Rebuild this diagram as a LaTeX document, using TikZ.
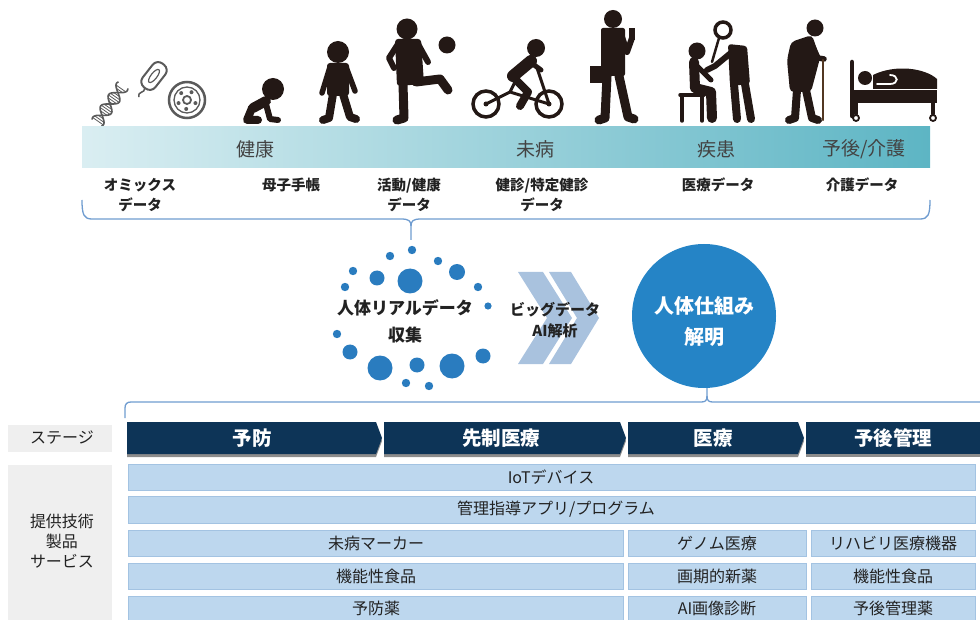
\documentclass[tikz,border=0pt]{standalone}
\usepackage{fontspec}
\newfontfamily\jp{Noto Sans CJK JP}
\usetikzlibrary{calc}
\definecolor{ink}{HTML}{231815}
\definecolor{grayink}{HTML}{5a5a5a}
\definecolor{barL}{HTML}{DAEEF2}
\definecolor{barR}{HTML}{5DB5C4}
\definecolor{bracec}{HTML}{6F9CD0}
\definecolor{dotc}{HTML}{2A7CBF}
\definecolor{circc}{HTML}{2584C6}
\definecolor{chevc}{HTML}{A9C2DE}
\definecolor{navy}{HTML}{0D3457}
\definecolor{rowc}{HTML}{BDD7EE}
\definecolor{rowline}{HTML}{A3C3E2}
\definecolor{sidec}{HTML}{EFEFEF}
\definecolor{txt}{HTML}{222222}
\tikzset{
  barlbl/.style={font=\jp\fontsize{19}{22}\selectfont, text=txt!85},
  datalbl/.style={font=\jp\bfseries\fontsize{14.5}{20}\selectfont, text=txt, align=center, inner sep=0},
  midlbl/.style={font=\jp\bfseries\fontsize{17}{27}\selectfont, text=txt, align=center, inner sep=0},
  biglbl/.style={font=\jp\bfseries\fontsize{15}{21}\selectfont, text=txt, align=center, inner sep=0},
  circlbl/.style={font=\jp\bfseries\fontsize{20}{31}\selectfont, text=white, align=center, inner sep=0},
  stagelbl/.style={font=\jp\bfseries\fontsize{19.5}{22}\selectfont, text=white},
  rowlbl/.style={font=\jp\fontsize{16}{18}\selectfont, text=txt},
  sidelbl/.style={font=\jp\fontsize{16}{20}\selectfont, text=txt, align=center, inner sep=0},
  bracket/.style={draw=bracec, line width=1.3pt},
  rowbox/.style={fill=rowc, draw=rowline, line width=0.8pt},
  stageseg/.style={fill=navy},
  stageshadow/.style={fill=black!45},
  sil/.style={fill=ink},
  limb/.style={draw=ink, line cap=round, line join=round},
  dot/.style={fill=dotc},
}
\begin{document}
\begin{tikzpicture}[x=1pt,y=-1pt]
\useasboundingbox (0,0) rectangle (980,620);

% ---------- life-course silhouettes ----------
% DNA helix
\begin{scope}[shift={(110,104)}, rotate=55, draw=grayink]
  \draw[line width=1.6pt] plot[domain=-23:23, samples=60] (\x, {6.5*sin(\x*13)});
  \draw[line width=1.6pt] plot[domain=-23:23, samples=60] (\x, {-6.5*sin(\x*13)});
  \foreach \t in {-21,-18.5,...,21} \draw[line width=0.8pt] (\t, {6.5*sin(\t*13)}) -- (\t, {-6.5*sin(\t*13)});
\end{scope}
% bacterium
\begin{scope}[shift={(154,76)}, rotate=52]
  \draw[grayink, line width=2pt, rounded corners=7pt] (-15,-8) rectangle (15,8);
  \draw[grayink, line width=1.2pt] (0,0) ellipse [x radius=8, y radius=3];
  \draw[grayink, line width=1.5pt] (-15,0) .. controls (-20,4) and (-21,-4) .. (-26,1);
\end{scope}
% cell
\draw[grayink, line width=2.5pt] (187,100) circle[radius=18];
\draw[grayink, line width=1.3pt] (187,100) circle[radius=13];
\draw[grayink, line width=1.8pt] (187,100) circle[radius=4];
\foreach \a in {20,95,160,230,300} \fill[grayink] ($(187,100)+(\a:9)$) circle[radius=2];

% crawling baby
\fill[ink] (273,89) circle[radius=11];
\draw[limb, line width=10pt] (266,101) -- (253,108);
\draw[limb, line width=6pt] (266,104) -- (270,119) -- (278,120);
\draw[limb, line width=8pt] (252,108) -- (247,120) -- (258,120);

% standing child
\fill[ink] (338,52) circle[radius=11];
\fill[ink, rounded corners=3pt] (327,63) rectangle (349,96);
\draw[limb, line width=5.5pt] (330,67) -- (322,93);
\draw[limb, line width=5.5pt] (346,67) -- (355,91);
\draw[limb, line width=8pt] (333,94) -- (329,118) -- (323,120);
\draw[limb, line width=8pt] (343,94) -- (350,117) -- (356,119);

% kid juggling a ball
\fill[ink] (407,29) circle[radius=10.5];
\fill[ink] (447,45) circle[radius=8.5];
\fill[ink, rounded corners=3pt] (395,39) -- (421,39) -- (424,84) -- (397,86) -- cycle;
\draw[limb, line width=6pt] (398,44) -- (389,58) -- (394,68);
\draw[limb, line width=6pt] (418,44) -- (428,62);
\draw[limb, line width=9pt] (403,84) -- (404,118) -- (397,120);
\draw[limb, line width=9pt] (416,82) -- (440,79) -- (448,90);

% cyclist
\draw[ink, line width=3.5pt] (486,104) circle[radius=13];
\draw[ink, line width=3.5pt] (549,104) circle[radius=13];
\fill[ink] (486,104) circle[radius=2.5];
\fill[ink] (549,104) circle[radius=2.5];
\draw[limb, line width=3pt] (486,104) -- (510,92) -- (549,104) (510,92) -- (518,76) (537,68) -- (549,104);
\fill[ink] (536,48) circle[radius=9];
\draw[limb, line width=12pt] (513,76) -- (531,61);
\draw[limb, line width=5pt] (530,62) -- (541,70);
\draw[limb, line width=8pt] (514,78) -- (528,92) -- (520,106);

% man with phone and briefcase
\fill[ink] (613,19) circle[radius=9];
\fill[ink, rounded corners=2pt] (601,28) rectangle (625,76);
\draw[limb, line width=6pt] (621,34) -- (627,52) -- (632,38);
\fill[ink] (629,28) rectangle (635,40);
\fill[ink] (590,66) rectangle (604,83);
\draw[limb, line width=9pt] (607,76) -- (605,118) -- (599,120);
\draw[limb, line width=9pt] (619,76) -- (628,117) -- (634,119);

% doctor with seated patient
\fill[ink] (697,51) circle[radius=8.5];
\draw[limb, line width=10pt] (694,62) -- (695,88) -- (711,92) -- (712,118);
\draw[limb, line width=5pt] (697,66) -- (711,80);
\draw[limb, line width=3.5pt] (680,95) -- (704,95) (682,95) -- (682,121) (702,95) -- (702,121);
\draw[ink, line width=3.5pt] (723,30) circle[radius=8];
\draw[limb, line width=2.5pt] (719,38) -- (712,62);
\fill[ink, rounded corners=3pt] (728,44) -- (747,46) -- (750,84) -- (730,86) -- cycle;
\draw[limb, line width=6pt] (732,52) -- (715,66) -- (707,70);
\draw[limb, line width=8pt] (734,84) -- (737,119) (745,84) -- (751,119);

% elderly person with cane
\fill[ink] (815,28) circle[radius=8.5];
\fill[ink, rounded corners=4pt] (791,42) -- (812,35) -- (820,58) -- (811,92) -- (790,92) -- (787,60) -- cycle;
\draw[limb, line width=5.5pt] (812,45) -- (818,58) -- (824,59);
\draw[limb, line width=8pt] (797,90) -- (795,118) -- (789,120);
\draw[limb, line width=8pt] (806,90) -- (812,118) -- (818,120);
\draw[ink!70!brown, line width=2.5pt, line cap=round] (823,60) -- (823,120);

% patient in bed
\draw[limb, line width=4.5pt] (852,62) -- (852,116);
\fill[ink] (852,90) rectangle (937,103);
\fill[ink] (865,78) circle[radius=7];
\fill[ink] (873,89) -- (873,75) .. controls (895,64) and (925,68) .. (937,79) -- (937,89) -- cycle;
\draw[white, line width=1.8pt, line cap=round] (877,84) -- (890,84) .. controls (899,84) and (899,75) .. (890,75);
\draw[limb, line width=3.5pt] (856,103) -- (856,114) (933,103) -- (933,114);
\draw[ink, line width=1.8pt] (856,118) circle[radius=3] (933,118) circle[radius=3];

% ---------- life-stage bar ----------
\shade[left color=barL, right color=barR] (82,127) rectangle (930,168);
\node[barlbl] (kenko) at (255,149) {健康};
\node[barlbl] (mibyo) at (535,149) {未病};
\node[barlbl] (shikkan) at (716,149) {疾患};
\node[barlbl] (kaigo) at (864,149) {予後/介護};

% data sources
\node[datalbl] (omics) at (140,195) {オミックス\\データ};
\node[datalbl] (boshi) at (291,185) {母子手帳};
\node[datalbl] (katsudo) at (409,195) {活動/健康\\データ};
\node[datalbl] (kenshin) at (542,195) {健診/特定健診\\データ};
\node[datalbl] (iryodata) at (718,185) {医療データ};
\node[datalbl] (kaigodata) at (862,185) {介護データ};

% brace collecting all the data sources
\coordinate (bL) at (82,200);
\coordinate (bR) at (930,200);
\coordinate (bTip) at (411,226);
\coordinate (bEnd) at (411,240);
\draw[bracket] (bL) .. controls (82,215) and (84,219) .. (92,219) -- (401,219)
  .. controls (409,219) and (411,221) .. (bTip) -- (bEnd);
\draw[bracket] (bTip) .. controls (411,221) and (413,219) .. (421,219) -- (920,219)
  .. controls (928,219) and (930,215) .. (bR);

% ---------- real-world data cloud ----------
\foreach \px/\py/\r in {412/250/4.2, 390/256/4.2, 438/261/4.2, 353/271/4.2, 377/278/7.5,
  410/281/12.5, 457/272/8, 345/287/4.2, 478/287/4.2, 488/306/3.6, 337/334/4.2,
  350/352/7.5, 483/356/7.5, 380/368/12.5, 417/365/7.5, 452/366/12.5, 406/383/4.2, 429/386/4.2}
  \fill[dot] (\px,\py) circle[radius=\r];
\node[midlbl] (collect) at (405,321) {人体リアルデータ\\収集};

% ---------- big-data analysis chevrons ----------
\fill[chevc] (518,272) -- (543,272) -- (572,318) -- (543,364) -- (518,364) -- (547,318) -- cycle;
\fill[chevc] (549,272) -- (571,272) -- (599,318) -- (571,364) -- (549,364) -- (577,318) -- cycle;
\node[biglbl] (bigdata) at (555,320) {ビッグデータ\\AI解析};

% ---------- mechanism elucidation ----------
\node[circle, fill=circc, minimum size=144pt, inner sep=0] (mech) at (704,316) {};
\node[circlbl] (mechtxt) at (704,321) {人体仕組み\\解明};

% brace spanning all stages
\coordinate (sL) at (125,418);
\coordinate (sR) at (980,402);
\coordinate (sTip) at (707,396);
\draw[bracket] (sL) -- (125,408) .. controls (125,404) and (127,402) .. (131,402) -- (701,402)
  .. controls (705,402) and (707,401) .. (sTip) -- (mech.south -| sTip);
\draw[bracket] (sTip) .. controls (707,401) and (709,402) .. (713,402) -- (sR);

% ---------- stage row ----------
\fill[sidec] (8,425) rectangle (112,452);
\node[rowlbl] (stagehead) at (62,438) {ステージ};
\foreach \xa/\xb in {127/382, 384/626, 628/804} {
  \fill[stageshadow] (\xa,425) -- (\xb-6,425) -- (\xb,441) -- (\xb-6,457) -- (\xa,457) -- cycle;
  \fill[stageseg] (\xa,422) -- (\xb-6,422) -- (\xb,438) -- (\xb-6,454) -- (\xa,454) -- cycle;
}
\fill[stageshadow] (806,425) rectangle (980,457);
\fill[stageseg] (806,422) rectangle (980,454);
\node[stagelbl] (yobo) at (252,438) {予防};
\node[stagelbl] (sensei) at (501,438) {先制医療};
\node[stagelbl] (iryo) at (713,438) {医療};
\node[stagelbl] (yogo) at (893,438) {予後管理};

% ---------- technologies, products and services ----------
\fill[sidec] (8,465) rectangle (112,620);
\node[sidelbl] (tech) at (62,541) {提供技術\\製品\\サービス};

\draw[rowbox] (128,464) rectangle (975,490);
\node[rowlbl] (iot) at (551,477) {IoTデバイス};
\draw[rowbox] (128,496) rectangle (975,523);
\node[rowlbl] (app) at (556,509) {管理指導アプリ/プログラム};

\draw[rowbox] (128,530) rectangle (623,556);
\draw[rowbox] (628,530) rectangle (806,556);
\draw[rowbox] (811,530) rectangle (975,556);
\node[rowlbl] (marker) at (376,543) {未病マーカー};
\node[rowlbl] (genome) at (717,543) {ゲノム医療};
\node[rowlbl] (rehab) at (893,543) {リハビリ医療機器};

\draw[rowbox] (128,563) rectangle (623,589);
\draw[rowbox] (628,563) rectangle (806,589);
\draw[rowbox] (811,563) rectangle (975,589);
\node[rowlbl] (food1) at (376,576) {機能性食品};
\node[rowlbl] (drug) at (717,576) {画期的新薬};
\node[rowlbl] (food2) at (893,576) {機能性食品};

\draw[rowbox] (128,596) rectangle (623,622);
\draw[rowbox] (628,596) rectangle (806,622);
\draw[rowbox] (811,596) rectangle (975,622);
\node[rowlbl] (prevdrug) at (376,608) {予防薬};
\node[rowlbl] (aiimg) at (717,608) {AI画像診断};
\node[rowlbl] (postdrug) at (893,608) {予後管理薬};
\end{tikzpicture}
\end{document}
